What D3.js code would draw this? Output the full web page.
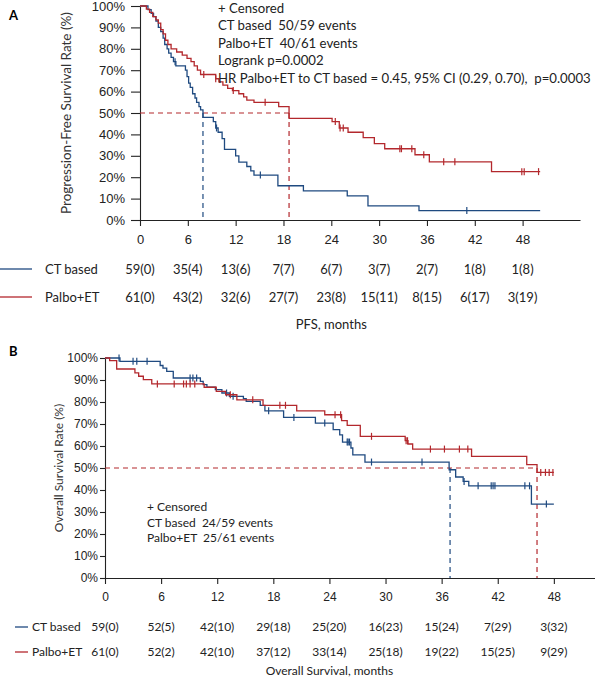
<!DOCTYPE html>
<html>
<head>
<meta charset="utf-8">
<script src="https://cdn.jsdelivr.net/npm/d3@7"></script>
<style>
  body { margin: 0; background: #fff; }
  svg { font-family: Lato, "Liberation Sans", sans-serif; }
</style>
</head>
<body>
<script>
// ---- data ----
const monthTicks = [0, 6, 12, 18, 24, 30, 36, 42, 48];
const groups = ["CT based", "Palbo+ET"];

// Panel A: PFS
const pfsCtTime = [0, 1.0, 1.4, 1.7, 2.0, 2.3, 2.6, 2.9, 3.1, 3.4, 3.6, 3.9, 4.2, 4.5, 5.7, 5.9, 6.1, 6.3, 6.6, 6.9, 7.1, 7.4, 7.6, 7.9, 9.2, 9.5, 9.8, 10.3, 10.6, 12.0, 12.4, 13.4, 13.9, 14.3, 17.3, 20.5, 26.0, 28.6, 35.0, 50.2];
const pfsCtSurv = [1.00, 0.983, 0.966, 0.95, 0.93, 0.90, 0.88, 0.85, 0.82, 0.80, 0.78, 0.76, 0.74, 0.72, 0.70, 0.67, 0.64, 0.62, 0.59, 0.57, 0.55, 0.53, 0.515, 0.48, 0.46, 0.43, 0.41, 0.38, 0.33, 0.30, 0.27, 0.25, 0.23, 0.21, 0.16, 0.136, 0.113, 0.066, 0.044, 0.044];
const pfsCtCens = [4.4, 9.6, 15.1, 41.0];

const pfsPeTime = [0, 0.8, 1.2, 1.6, 2.0, 2.3, 2.6, 2.9, 3.2, 3.5, 3.9, 4.6, 5.3, 5.9, 6.4, 6.8, 7.2, 7.6, 9.5, 9.9, 10.4, 11.0, 11.6, 12.4, 13.0, 13.4, 14.3, 17.4, 18.7, 24.1, 25.0, 26.1, 28.0, 29.4, 30.7, 34.5, 36.3, 44.1, 50.2];
const pfsPeSurv = [1.0, 0.985, 0.97, 0.95, 0.935, 0.92, 0.89, 0.87, 0.84, 0.82, 0.80, 0.785, 0.77, 0.755, 0.74, 0.72, 0.70, 0.68, 0.66, 0.645, 0.63, 0.615, 0.605, 0.59, 0.575, 0.56, 0.55, 0.53, 0.475, 0.46, 0.43, 0.41, 0.385, 0.357, 0.333, 0.305, 0.272, 0.226, 0.226];
const pfsPeCens = [8.0, 9.5, 11.7, 15.7, 24.5, 25.1, 25.5, 32.6, 32.8, 34.1, 35.6, 38.1, 39.5, 47.9, 48.2, 50.0];

const pfsCtRisk = ["59(0)", "35(4)", "13(6)", "7(7)", "6(7)", "3(7)", "2(7)", "1(8)", "1(8)"];
const pfsPeRisk = ["61(0)", "43(2)", "32(6)", "27(7)", "23(8)", "15(11)", "8(15)", "6(17)", "3(19)"];
const pfsMedians = [7.9, 18.7];
const pfsNotes = ["+ Censored", "CT based  50/59 events", "Palbo+ET  40/61 events", "Logrank p=0.0002",
  "HR Palbo+ET to CT based = 0.45, 95% CI (0.29, 0.70),  p=0.0003"];

// Panel B: OS
const osCtTime = [0, 1.6, 5.9, 6.2, 6.6, 7.3, 10.2, 10.5, 10.9, 11.8, 12.5, 13.3, 14.8, 15.1, 16.6, 17.1, 19.1, 22.5, 24.4, 25.1, 25.4, 26.3, 26.5, 27.8, 36.8, 37.5, 38.3, 38.9, 45.6, 48.0];
const osCtSurv = [1.0, 0.985, 0.966, 0.954, 0.939, 0.909, 0.894, 0.879, 0.867, 0.856, 0.841, 0.826, 0.815, 0.803, 0.785, 0.76, 0.73, 0.704, 0.674, 0.651, 0.618, 0.591, 0.56, 0.527, 0.492, 0.459, 0.439, 0.419, 0.336, 0.336];
const osCtCens = [1.5, 3.0, 3.4, 4.5, 9.1, 9.4, 9.8, 13.0, 13.7, 17.5, 20.2, 23.5, 25.9, 26.0, 26.15, 28.5, 33.9, 38.4, 39.9, 41.3, 41.5, 41.7, 44.9, 45.4, 47.2];

const osPeTime = [0, 0.5, 1.25, 3.2, 3.6, 4.1, 5.0, 10.6, 11.9, 12.9, 14.1, 16.9, 20.5, 23.5, 25.3, 25.9, 27.3, 32.1, 32.4, 32.9, 39.2, 45.1, 46.2, 48.0];
const osPeSurv = [1.0, 0.988, 0.95, 0.932, 0.917, 0.902, 0.882, 0.867, 0.848, 0.833, 0.81, 0.785, 0.76, 0.742, 0.715, 0.694, 0.644, 0.624, 0.609, 0.586, 0.553, 0.515, 0.48, 0.48];
const osPeCens = [5.6, 7.4, 8.4, 8.7, 9.1, 9.6, 13.4, 15.8, 18.7, 19.3, 24.6, 25.2, 28.5, 32.2, 32.35, 34.8, 36.3, 37.9, 38.8, 46.6, 47.1, 47.5, 47.9];

const osCtRisk = ["59(0)", "52(5)", "42(10)", "29(18)", "25(20)", "16(23)", "15(24)", "7(29)", "3(32)"];
const osPeRisk = ["61(0)", "52(2)", "42(10)", "37(12)", "33(14)", "25(18)", "19(22)", "15(25)", "9(29)"];
const osMedians = [36.9, 46.2];
const osNotes = ["+ Censored", "CT based  24/59 events", "Palbo+ET  25/61 events"];

const colors = ["#1f4a80", "#b3282d"];

const svg = d3.select("body").append("svg")
  .attr("width", 595)
  .attr("height", 680);

// value of the step curve at time t
function survAt(times, surv, t) {
  const i = d3.bisectRight(times, t) - 1;
  return surv[Math.max(0, i)];
}

function drawPanel(p) {
  const g = svg.append("g");
  const x = d3.scaleLinear().domain([0, p.xMax]).range([p.left, p.right]);
  const y = d3.scaleLinear().domain([0, 1]).range([p.bottom, p.top]);

  // axes
  g.append("g")
    .attr("transform", `translate(0,${p.bottom})`)
    .call(d3.axisBottom(x).tickValues(monthTicks).tickSize(6).tickSizeOuter(0).tickPadding(p.xPad))
    .call(a => a.selectAll("text").attr("font-size", p.fs).attr("fill", "#222"));

  g.append("g")
    .attr("transform", `translate(${p.left},0)`)
    .call(d3.axisLeft(y).ticks(10).tickFormat(d3.format(".0%")).tickSize(p.yTick).tickSizeOuter(0).tickPadding(p.yPad))
    .call(a => a.selectAll("text").attr("font-size", p.fs).attr("fill", "#222"));

  g.selectAll(".domain, .tick line").attr("stroke", "#222").attr("stroke-width", 1.1);

  // y label
  g.append("text")
    .attr("transform", `translate(${p.yLabelX},${(p.top + p.bottom) / 2}) rotate(-90)`)
    .attr("text-anchor", "middle")
    .attr("font-size", p.yLabelFs)
    .attr("fill", "#333")
    .text(p.yLabel);

  // median guide lines
  const maxMed = d3.max(p.medians);
  g.append("line")
    .attr("x1", x(0)).attr("x2", x(maxMed))
    .attr("y1", y(0.5)).attr("y2", y(0.5))
    .attr("stroke", colors[1]).attr("stroke-width", 1.2).attr("stroke-dasharray", "5,4");
  p.medians.forEach((m, i) => {
    g.append("line")
      .attr("x1", x(m)).attr("x2", x(m))
      .attr("y1", y(0.5)).attr("y2", y(0))
      .attr("stroke", colors[i]).attr("stroke-width", 1.2).attr("stroke-dasharray", "5,4");
  });

  // curves + censor marks
  const line = d3.line().x(d => x(d[0])).y(d => y(d[1])).curve(d3.curveStepAfter);
  p.series.forEach((s, i) => {
    const pts = s.time.map((t, k) => [t, s.surv[k]]);
    g.append("path")
      .datum(pts)
      .attr("fill", "none")
      .attr("stroke", colors[i])
      .attr("stroke-width", 1.3)
      .attr("d", line);

    g.selectAll(null)
      .data(s.cens)
      .enter()
      .append("line")
      .attr("x1", d => x(d)).attr("x2", d => x(d))
      .attr("y1", d => y(survAt(s.time, s.surv, d)) - 3.5)
      .attr("y2", d => y(survAt(s.time, s.surv, d)) + 3.5)
      .attr("stroke", colors[i])
      .attr("stroke-width", 1.2);
  });

  // notes
  g.selectAll(null)
    .data(p.notes)
    .enter()
    .append("text")
    .attr("x", p.noteX)
    .attr("y", (d, i) => p.noteY + i * p.noteGap)
    .attr("dy", "0.35em")
    .attr("font-size", p.noteFs)
    .attr("fill", "#222")
    .style("white-space", "pre")
    .text(d => d);

  // panel letter
  g.append("text")
    .attr("x", 9).attr("y", p.letterY)
    .attr("font-size", 13).attr("font-weight", "bold")
    .text(p.letter);

  // number at risk table
  p.risk.forEach((row, i) => {
    const ry = p.riskY[i];
    g.append("line")
      .attr("x1", p.legLine[0]).attr("x2", p.legLine[1])
      .attr("y1", ry).attr("y2", ry)
      .attr("stroke", colors[i]).attr("stroke-width", 1.3);
    g.append("text")
      .attr("x", p.legText).attr("y", ry).attr("dy", "0.35em")
      .attr("font-size", p.fs).attr("fill", "#222")
      .text(groups[i]);
    g.selectAll(null)
      .data(row)
      .enter()
      .append("text")
      .attr("x", (d, k) => x(monthTicks[k]))
      .attr("y", ry).attr("dy", "0.35em")
      .attr("text-anchor", "middle")
      .attr("font-size", p.fs).attr("fill", "#222")
      .text(d => d);
  });

  g.append("text")
    .attr("x", x(24)).attr("y", p.xLabelY).attr("dy", "0.35em")
    .attr("text-anchor", "middle")
    .attr("font-size", p.fs).attr("fill", "#222")
    .text(p.xLabel);
}

drawPanel({
  letter: "A", letterY: 20,
  left: 140, right: 580, top: 6, bottom: 220, xMax: 55.2,
  fs: 13, xPad: 9, yTick: 9, yPad: 6, yLabelX: 71, yLabelFs: 13.5,
  yLabel: "Progression-Free Survival Rate (%)",
  series: [
    { time: pfsCtTime, surv: pfsCtSurv, cens: pfsCtCens },
    { time: pfsPeTime, surv: pfsPeSurv, cens: pfsPeCens }
  ],
  medians: pfsMedians,
  notes: pfsNotes, noteX: 218, noteY: 8, noteGap: 17.6, noteFs: 13.2,
  risk: [pfsCtRisk, pfsPeRisk], riskY: [269, 297], legLine: [0, 32], legText: 45,
  xLabel: "PFS, months", xLabelY: 324
});

drawPanel({
  letter: "B", letterY: 356,
  left: 105, right: 595, top: 358, bottom: 578, xMax: 52.4,
  fs: 12, xPad: 8, yTick: 5, yPad: 2, yLabelX: 63, yLabelFs: 12,
  yLabel: "Overall Survival Rate (%)",
  series: [
    { time: osCtTime, surv: osCtSurv, cens: osCtCens },
    { time: osPeTime, surv: osPeSurv, cens: osPeCens }
  ],
  medians: osMedians,
  notes: osNotes, noteX: 147, noteY: 507, noteGap: 15.4, noteFs: 12,
  risk: [osCtRisk, osPeRisk], riskY: [627, 652], legLine: [15, 28], legText: 32,
  xLabel: "Overall Survival, months", xLabelY: 671
});
</script>
</body>
</html>
